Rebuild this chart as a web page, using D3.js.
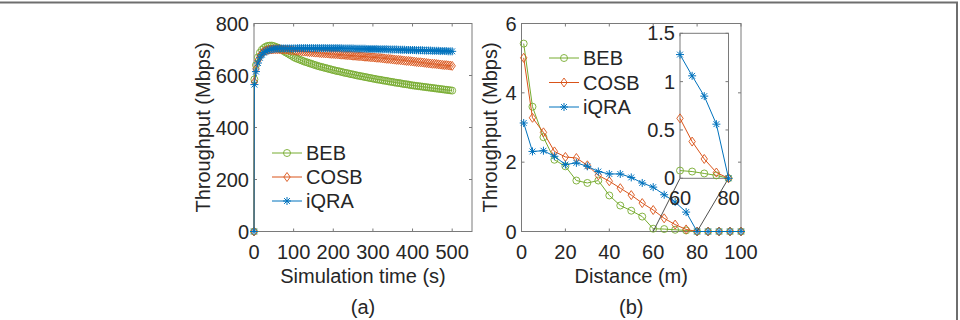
<!DOCTYPE html>
<html lang="en">
<head>
  <meta charset="UTF-8">
  <script src="https://d3js.org/d3.v7.min.js"></script>
  <title>Throughput</title>
  <style>
    body { margin: 0; background: #fff; }
    svg text { font-family: "Liberation Sans", Arial, sans-serif; fill: #262626; }
  </style>
</head>
<body>
  <script>
    // ---- data ----
    const seriesNames = ["BEB", "COSB", "iQRA"]
    const seriesColors = ["#77AC30", "#D95319", "#0072BD"]

    // (a) throughput vs simulation time
    const simTime = [0, 1].concat(d3.range(5, 501, 5))
    const timeBEB = [0, 585, 640, 670, 688, 699, 706, 711, 714, 715, 715, 713, 710, 707, 703, 699, 694, 689, 685, 680, 676, 671,
      667, 664, 661, 658, 655, 652, 650, 647, 645, 642, 640, 637, 635, 633, 631, 629, 627, 625, 623, 621,
      619, 617, 616, 614, 612, 610, 609, 607, 605, 604, 602, 600, 599, 597, 596, 594, 593, 591, 590, 588,
      587, 585, 584, 583, 581, 580, 579, 577, 576, 575, 573, 572, 571, 570, 568, 567, 566, 565, 563, 562,
      561, 560, 559, 558, 557, 556, 555, 554, 553, 552, 551, 550, 549, 548, 547, 546, 545, 544, 543, 542]
    const timeCOSB = [0, 575, 625, 658, 675, 686, 692, 696, 698, 700, 700, 701, 701, 701, 701, 700, 700, 699, 699, 698, 697, 696,
      695, 695, 694, 693, 692, 692, 691, 690, 690, 689, 688, 688, 687, 686, 686, 685, 685, 684, 683, 683,
      682, 682, 681, 680, 680, 679, 678, 678, 677, 676, 676, 675, 674, 674, 673, 672, 672, 671, 670, 670,
      669, 668, 668, 667, 666, 665, 664, 664, 663, 662, 661, 660, 660, 659, 658, 657, 656, 656, 655, 654,
      653, 652, 651, 651, 650, 649, 648, 647, 646, 645, 645, 644, 643, 642, 641, 640, 640, 639, 638, 637]
    const timeIQRA = [0, 565, 615, 648, 668, 680, 688, 693, 697, 699, 701, 702, 703, 703, 704, 704, 704, 704, 704, 704, 704, 704,
      704, 705, 705, 705, 705, 705, 705, 705, 705, 705, 705, 705, 705, 705, 705, 705, 705, 705, 705, 705,
      705, 705, 705, 705, 704, 704, 704, 704, 704, 704, 703, 703, 703, 703, 703, 703, 702, 702, 702, 702,
      702, 702, 701, 701, 701, 701, 701, 700, 700, 700, 700, 700, 699, 699, 699, 699, 698, 698, 698, 698,
      698, 697, 697, 697, 697, 696, 696, 696, 696, 695, 695, 695, 695, 694, 694, 694, 694, 693, 693, 693]

    // (b) throughput vs distance
    const distance = [1, 5, 10, 15, 20, 25, 30, 35, 40, 45, 50, 55, 60, 65, 70, 75, 80, 85, 90, 95, 100]
    const distBEB = [5.42, 3.6, 2.72, 2.07, 1.88, 1.47, 1.40, 1.47, 1.04, 0.75, 0.6, 0.43, 0.08, 0.07, 0.05, 0.03, 0, 0, 0, 0, 0]
    const distCOSB = [5.01, 3.28, 2.86, 2.31, 2.15, 2.12, 1.91, 1.62, 1.45, 1.25, 1.05, 0.82, 0.62, 0.38, 0.2, 0.06, 0, 0, 0, 0, 0]
    const distIQRA = [3.13, 2.31, 2.33, 2.17, 1.93, 1.98, 1.88, 1.73, 1.66, 1.66, 1.56, 1.40, 1.28, 1.06, 0.85, 0.56, 0, 0, 0, 0, 0]

    const ticksA_x = [0, 100, 200, 300, 400, 500]
    const ticksA_y = [0, 200, 400, 600, 800]
    const ticksB_x = [0, 20, 40, 60, 80, 100]
    const ticksB_y = [0, 2, 4, 6]
    const ticksInset_x = [60, 80]
    const ticksInset_y = [0, 0.5, 1, 1.5]

    // ---- layout ----
    const width = 960, height = 320
    const axisColor = "#7a7a7a"
    const fontSize = 20

    const svg = d3.select("body").append("svg")
        .attr("width", width)
        .attr("height", height)

    // figure frame (top and right edge)
    svg.append("path")
        .attr("d", `M0,2.5H957V${height}`)
        .attr("fill", "none")
        .attr("stroke", "#6e6e6e")
        .attr("stroke-width", 2)

    // marker shapes
    function marker(sel, kind, color) {
      if (kind === 0) {
        sel.append("circle").attr("r", 3.5)
            .attr("fill", "none").attr("stroke", color).attr("stroke-width", 0.9)
      } else if (kind === 1) {
        sel.append("path").attr("d", "M0,-4.5L3.2,0L0,4.5L-3.2,0Z")
            .attr("fill", "none").attr("stroke", color).attr("stroke-width", 0.9)
      } else {
        sel.append("path").attr("d", "M-4,0H4M0,-4V4M-2.9,-2.9L2.9,2.9M-2.9,2.9L2.9,-2.9")
            .attr("fill", "none").attr("stroke", color).attr("stroke-width", 1)
      }
    }

    function drawAxes(g, x, y, xt, yt, fmtX, fmtY) {
      const [x0, x1] = x.range(), [y0, y1] = y.range()
      g.append("rect")
          .attr("x", x0).attr("y", y1)
          .attr("width", x1 - x0).attr("height", y0 - y1)
          .attr("fill", "#fff")
          .attr("stroke", axisColor)
          .attr("stroke-width", 1)
      const tl = 3
      xt.forEach(t => {
        g.append("line").attr("x1", x(t)).attr("x2", x(t)).attr("y1", y0).attr("y2", y0 - tl).attr("stroke", axisColor)
        g.append("line").attr("x1", x(t)).attr("x2", x(t)).attr("y1", y1).attr("y2", y1 + tl).attr("stroke", axisColor)
      })
      yt.forEach(t => {
        g.append("line").attr("y1", y(t)).attr("y2", y(t)).attr("x1", x0).attr("x2", x0 + tl).attr("stroke", axisColor)
        g.append("line").attr("y1", y(t)).attr("y2", y(t)).attr("x1", x1).attr("x2", x1 - tl).attr("stroke", axisColor)
      })
      g.selectAll(null).data(xt).join("text")
          .attr("x", d => x(d)).attr("y", y0 + 27)
          .attr("text-anchor", "middle")
          .style("font-size", fontSize + "px")
          .text(fmtX || (d => d))
      g.selectAll(null).data(yt).join("text")
          .attr("x", x0 - 5).attr("y", d => y(d) + 7)
          .attr("text-anchor", "end")
          .style("font-size", fontSize + "px")
          .text(fmtY || (d => d))
    }

    function drawSeries(g, x, y, xs, ys, kind, color, filter) {
      const pts = xs.map((v, i) => [v, ys[i]]).filter(filter || (() => true))
      g.append("path")
          .datum(pts)
          .attr("fill", "none")
          .attr("stroke", color)
          .attr("stroke-width", 1)
          .attr("d", d3.line().x(d => x(d[0])).y(d => y(d[1])))
      g.selectAll(null).data(pts).join("g")
          .attr("transform", d => `translate(${x(d[0])},${y(d[1])})`)
          .each(function() { marker(d3.select(this), kind, color) })
    }

    function drawLegend(g, left, top, step) {
      seriesNames.forEach((name, i) => {
        const row = g.append("g").attr("transform", `translate(${left},${top + i * step})`)
        row.append("line").attr("x1", 0).attr("x2", 30).attr("stroke", seriesColors[i]).attr("stroke-width", 1)
        row.append("g").attr("transform", "translate(15,0)").call(s => marker(s, i, seriesColors[i]))
        row.append("text").attr("x", 34).attr("y", 7).style("font-size", fontSize + "px").text(name)
      })
    }

    function yLabel(g, cx, cy, txt) {
      g.append("text")
          .attr("transform", `translate(${cx},${cy}) rotate(-90)`)
          .attr("text-anchor", "middle")
          .attr("dy", "0.35em")
          .style("font-size", fontSize + "px")
          .text(txt)
    }

    function bottomText(g, cx, yy, txt) {
      g.append("text").attr("x", cx).attr("y", yy)
          .attr("text-anchor", "middle")
          .style("font-size", fontSize + "px")
          .text(txt)
    }

    // ---- panel (a) ----
    const gA = svg.append("g")
    const xA = d3.scaleLinear().domain([0, 550]).range([254, 472])
    const yA = d3.scaleLinear().domain([0, 800]).range([231.5, 23.5])
    drawAxes(gA, xA, yA, ticksA_x, ticksA_y)
    const timeSeries = [timeBEB, timeCOSB, timeIQRA]
    timeSeries.forEach((ys, i) => drawSeries(gA, xA, yA, simTime, ys, i, seriesColors[i]))
    drawLegend(gA, 272, 153, 24)
    yLabel(gA, 203, (yA.range()[0] + yA.range()[1]) / 2, "Throughput (Mbps)")
    bottomText(gA, (xA.range()[0] + xA.range()[1]) / 2, 283, "Simulation time (s)")
    bottomText(gA, (xA.range()[0] + xA.range()[1]) / 2, 314, "(a)")

    // ---- panel (b) ----
    const gB = svg.append("g")
    const xB = d3.scaleLinear().domain([0, 100]).range([521.5, 741])
    const yB = d3.scaleLinear().domain([0, 6]).range([231.5, 23.5])
    drawAxes(gB, xB, yB, ticksB_x, ticksB_y)
    const distSeries = [distBEB, distCOSB, distIQRA]
    distSeries.forEach((ys, i) => drawSeries(gB, xB, yB, distance, ys, i, seriesColors[i]))
    drawLegend(gB, 549, 58, 24.5)
    yLabel(gB, 490, (yB.range()[0] + yB.range()[1]) / 2, "Throughput (Mbps)")
    bottomText(gB, (xB.range()[0] + xB.range()[1]) / 2, 283, "Distance (m)")
    bottomText(gB, (xB.range()[0] + xB.range()[1]) / 2, 314, "(b)")

    // ---- inset (zoom on 60-80 m) ----
    const gI = svg.append("g")
    const xI = d3.scaleLinear().domain([60, 80]).range([680, 728.5])
    const yI = d3.scaleLinear().domain([0, 1.5]).range([178.3, 33.3])
    // connector lines from inset corners to the zoomed span on the main axis
    gI.append("line")
        .attr("x1", xI(60)).attr("y1", yI(0)).attr("x2", xB(60)).attr("y2", yB(0))
        .attr("stroke", "#3a3a3a").attr("stroke-width", 0.9)
    gI.append("line")
        .attr("x1", xI(80)).attr("y1", yI(0)).attr("x2", xB(80)).attr("y2", yB(0))
        .attr("stroke", "#3a3a3a").attr("stroke-width", 0.9)
    drawAxes(gI, xI, yI, ticksInset_x, ticksInset_y)
    distSeries.forEach((ys, i) => drawSeries(gI, xI, yI, distance, ys, i, seriesColors[i], d => d[0] >= 60 && d[0] <= 80))
  </script>
</body>
</html>
